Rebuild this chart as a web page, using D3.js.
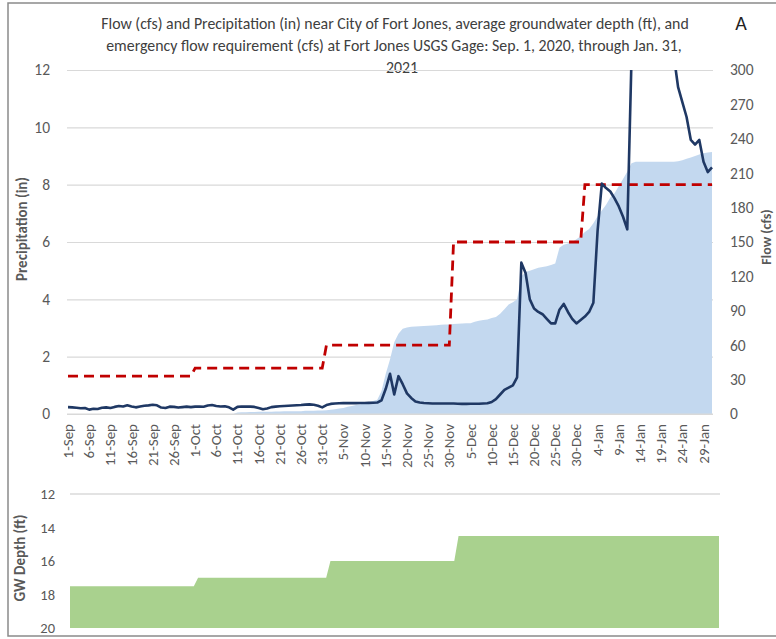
<!DOCTYPE html>
<html>
<head>
<meta charset="utf-8">
<script src="https://cdn.jsdelivr.net/npm/d3@7"></script>
<style>
  html, body { margin: 0; padding: 0; background: #fff; }
  svg { display: block; font-family: Carlito, Calibri, Lato, "Open Sans", sans-serif; }
</style>
</head>
<body>
<svg id="chart" width="776" height="639"></svg>
<script>
// ---- Data: Sep 1, 2020 through Jan 31, 2021 (one value per day) ----
const startDate = new Date(2020, 8, 1);
const endDate = new Date(2021, 1, 1);   // exclusive
const days = d3.timeDay.range(startDate, endDate);

// Daily mean flow at the Fort Jones gage (cfs)
const flowSep = [6.0,5.8,5.5,5.0,5.2,3.8,4.5,4.4,5.5,5.8,5.2,6.2,7.0,6.5,7.6,6.6,5.8,6.5,7.2,7.5,8.0,7.6,5.6,5.2,6.4,6.2,5.6,6.0,6.4,6.0];
const flowOct = [6.4,6.6,6.3,7.4,7.8,7.0,6.6,6.8,5.8,3.8,6.2,6.5,6.4,6.4,6.2,5.2,4.2,4.8,6.0,6.4,6.8,7.0,7.2,7.4,7.6,7.8,8.2,8.4,8.0,7.2,5.8];
const flowNov = [7.8,8.8,9.2,9.4,9.5,9.5,9.6,9.5,9.6,9.6,9.7,9.8,10,12,22,35,17,33,26,18,14,11,10,9.6,9.4,9.2,9.2,9.2,9.2,9.2];
const flowDec = [9.2,9.0,8.8,8.8,9.0,9.0,9.0,9.2,9.4,10.5,13,17,21,23,25,32,132,123,100,92,89,87,83,79,79,91,96,89,83,79,82];
const flowJan = [85,89,97,160,201,197,194,188,181,172,161,310,520,700,820,760,640,540,460,400,350,312,285,272,259,239,235,239,220,211,215];
const flow = [].concat(flowSep, flowOct, flowNov, flowDec, flowJan);

// Cumulative precipitation near City of Fort Jones (in)
const precip = [
  0,0,0,0,0,0,0,0,0,0, 0,0,0,0,0,0,0,0,0,0, 0,0,0,0,0,0,0,0,0,0, 0,0,0,0,0,0,0,0,0,0,
  0.05,0.06,0.06,0.07,0.07,0.08,0.08,0.08,0.08,0.09,0.09,
  0.10,0.10,0.10,0.10,0.10,0.11,0.11,0.11,0.12,0.12,
  0.13,0.15,0.17,0.19,0.21,0.25,0.28,0.31,0.34,0.37,0.41,0.45,0.50,
  0.8,1.4,1.9,2.5,2.8,2.97,3.02,3.04,3.05,3.06,3.07,3.08,3.09,3.10,3.11,3.12,3.12,
  3.14,3.15,3.16,3.17,3.17,3.22,3.25,3.28,3.30,3.35,3.38,3.50,3.65,3.82,3.90,4.00,
  4.80,4.95,5.00,5.05,5.10,5.13,5.15,5.20,5.25,5.80,5.90,5.95,6.00,6.10,6.20,
  6.35,6.45,6.65,6.90,7.10,7.30,7.55,7.70,7.95,8.20,8.45,8.75,
  8.8,8.8,8.8,8.8,8.8,8.8,8.8,8.8,8.8,8.8,
  8.82,8.85,8.90,8.95,9.00,9.05,9.10,9.12,9.14
];

// Monthly emergency flow requirement (cfs) and average groundwater depth (ft)
const months = [8, 9, 10, 11, 0];           // Sep, Oct, Nov, Dec, Jan (JS month index)
const emergencyFlow = [33, 40, 60, 150, 200];
const gwDepth = [17.5, 17.0, 16.0, 14.5, 14.5];

// Axis ticks
const precipTicks = [0, 2, 4, 6, 8, 10, 12];
const flowTicks = [0, 30, 60, 90, 120, 150, 180, 210, 240, 270, 300];
const gwTicks = [12, 14, 16, 18, 20];
const labelEvery = 5;

const monthValue = (arr, d) => arr[months.indexOf(d.getMonth())];
const emergencyDaily = days.map(d => monthValue(emergencyFlow, d));
const gwDaily = days.map(d => monthValue(gwDepth, d));

// ---- Layout ----
const svg = d3.select("#chart");
const grey = "#595959";
const plot = { left: 67, right: 713, top: 70, bottom: 414 };
const idx = d3.range(days.length);

const x = d3.scalePoint().domain(idx).range([68, 712]);
const yPrecip = d3.scaleLinear().domain([0, 12]).range([plot.bottom, plot.top]);
const yFlow = d3.scaleLinear().domain([0, 300]).range([plot.bottom, plot.top]);

// Frame
svg.append("rect")
  .attr("x", 8).attr("y", 3).attr("width", 790).attr("height", 633)
  .attr("fill", "none").attr("stroke", "#8a8a8a").attr("stroke-width", 1.5);

// Title: size the font so the first line spans ~588px, then use it for all lines
const titleLines = [
  { t: "Flow (cfs) and Precipitation (in) near City of Fort Jones, average groundwater depth (ft), and", x: 395, y: 29 },
  { t: "emergency flow requirement (cfs) at Fort Jones USGS Gage: Sep. 1, 2020, through Jan. 31,", x: 394, y: 51 },
  { t: "2021", x: 402, y: 73 }
];
const titleTexts = titleLines.map(l => svg.append("text")
  .attr("x", l.x).attr("y", l.y)
  .attr("text-anchor", "middle")
  .attr("font-size", 15).attr("fill", "#404040")
  .text(l.t));
const natural = titleTexts[0].node().getComputedTextLength();
const titleSize = Math.min(16, 15 * 588 / natural);
titleTexts.forEach(t => t.attr("font-size", titleSize));

svg.append("text").attr("x", 741).attr("y", 30)
  .attr("text-anchor", "middle").attr("font-size", 20).attr("fill", "#222")
  .text("A");

// Gridlines + left axis
const leftAxis = svg.append("g")
  .attr("transform", `translate(${plot.left},0)`)
  .call(d3.axisLeft(yPrecip).tickValues(precipTicks)
    .tickSize(-(plot.right - plot.left)).tickPadding(17));
leftAxis.select(".domain").remove();
leftAxis.selectAll("line").attr("stroke", "#d9d9d9").attr("stroke-width", 1.2);
leftAxis.selectAll("text").attr("font-size", 15.5).attr("fill", grey)
  .attr("font-family", "Carlito, Calibri, Lato, sans-serif");

// Right axis
const rightAxis = svg.append("g")
  .attr("transform", `translate(${plot.right},0)`)
  .call(d3.axisRight(yFlow).tickValues(flowTicks).tickSize(0).tickPadding(17));
rightAxis.select(".domain").remove();
rightAxis.selectAll("text").attr("font-size", 15.5).attr("fill", grey)
  .attr("font-family", "Carlito, Calibri, Lato, sans-serif");

// Axis titles
svg.append("text")
  .attr("transform", "translate(27,229) rotate(-90)")
  .attr("text-anchor", "middle").attr("font-size", 15).attr("font-weight", "bold")
  .attr("fill", grey).text("Precipitation (in)");
svg.append("text")
  .attr("transform", "translate(771,237) rotate(-90)")
  .attr("text-anchor", "middle").attr("font-size", 14).attr("font-weight", "bold")
  .attr("fill", grey).text("Flow (cfs)");

// Cumulative precipitation area
svg.append("path")
  .datum(precip)
  .attr("fill", "#c3d8ef")
  .attr("d", d3.area().x((d, i) => x(i)).y0(yPrecip(0)).y1(d => yPrecip(d)));

// Zero baseline
svg.append("line")
  .attr("x1", plot.left).attr("x2", plot.right)
  .attr("y1", plot.bottom).attr("y2", plot.bottom)
  .attr("stroke", "#d9d9d9").attr("stroke-width", 1.2);

// Clip for lines exceeding the flow axis
svg.append("clipPath").attr("id", "plotClip")
  .append("rect")
  .attr("x", plot.left).attr("y", plot.top)
  .attr("width", plot.right - plot.left).attr("height", plot.bottom - plot.top);

// Emergency flow requirement
svg.append("path")
  .datum(emergencyDaily)
  .attr("fill", "none").attr("stroke", "#c00000")
  .attr("stroke-width", 2.8).attr("stroke-dasharray", "10,6")
  .attr("d", d3.line().x((d, i) => x(i)).y(d => yFlow(d)));

// Flow
svg.append("path")
  .datum(flow)
  .attr("clip-path", "url(#plotClip)")
  .attr("fill", "none").attr("stroke", "#1f3864")
  .attr("stroke-width", 2.6).attr("stroke-linejoin", "round")
  .attr("d", d3.line().x((d, i) => x(i)).y(d => yFlow(d)));

// Date labels
const fmt = d3.timeFormat("%-d-%b");
svg.append("g").selectAll("text")
  .data(idx.filter(i => i % labelEvery === 0))
  .join("text")
  .attr("transform", i => `translate(${x(i) + 5},424) rotate(-90)`)
  .attr("text-anchor", "end")
  .attr("font-size", 15).attr("fill", grey)
  .text(i => fmt(days[i]));

// ---- Groundwater depth panel ----
const xGw = d3.scalePoint().domain(idx).range([70, 719]);
const yGw = d3.scaleLinear().domain([12, 20]).range([494, 628]);

svg.append("path")
  .datum(gwDaily)
  .attr("fill", "#a9d18e")
  .attr("d", d3.area().x((d, i) => xGw(i)).y0(yGw(20)).y1(d => yGw(d)));

svg.append("line")
  .attr("x1", 70).attr("x2", 720)
  .attr("y1", yGw(12)).attr("y2", yGw(12))
  .attr("stroke", "#e3e3e3").attr("stroke-width", 2);

const gwAxis = svg.append("g")
  .attr("transform", "translate(70,0)")
  .call(d3.axisLeft(yGw).tickValues(gwTicks).tickSize(0).tickPadding(15));
gwAxis.select(".domain").remove();
gwAxis.selectAll("text").attr("font-size", 14.5).attr("fill", grey)
  .attr("font-family", "Carlito, Calibri, Lato, sans-serif");

svg.append("text")
  .attr("transform", "translate(25,558) rotate(-90)")
  .attr("text-anchor", "middle").attr("font-size", 15).attr("font-weight", "bold")
  .attr("fill", grey).text("GW Depth (ft)");
</script>
</body>
</html>
